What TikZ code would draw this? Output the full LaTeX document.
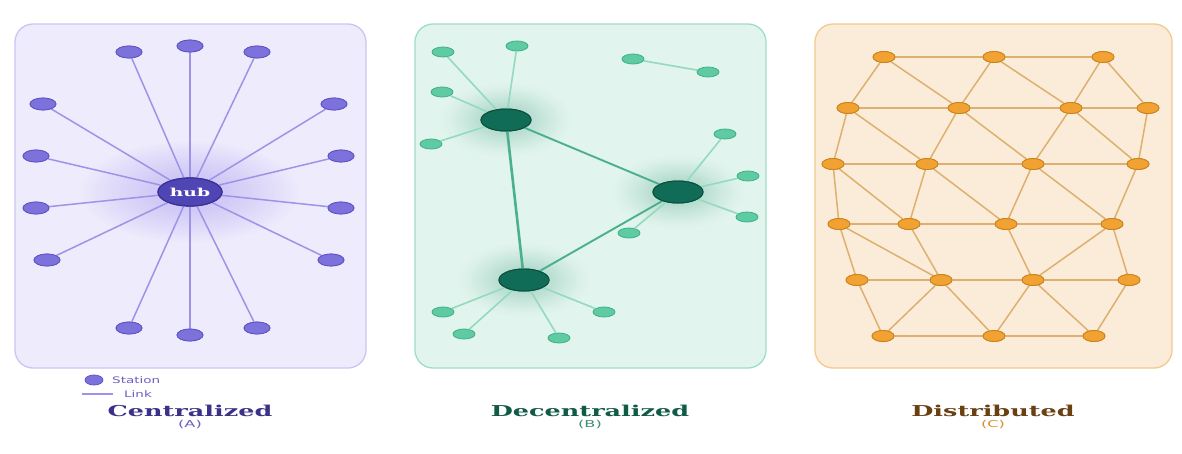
\documentclass[tikz,border=0pt]{standalone}
\usepackage{fontspec}
\setmainfont{DejaVu Serif}
\setsansfont{DejaVu Sans}
\usetikzlibrary{shapes.geometric}
\definecolor{Abg}{HTML}{EEEBFC}
\definecolor{Aborder}{HTML}{CBC5F3}
\definecolor{Anode}{HTML}{7D72DC}
\definecolor{Anodeb}{HTML}{5E53C4}
\definecolor{Alink}{HTML}{9D94E8}
\definecolor{Ahub}{HTML}{4F45B5}
\definecolor{Ahubb}{HTML}{3A3096}
\definecolor{Aglow}{HTML}{C4BAF3}
\definecolor{Atitle}{HTML}{3B3189}
\definecolor{Asub}{HTML}{6A60C4}
\definecolor{Bbg}{HTML}{E1F4ED}
\definecolor{Bborder}{HTML}{9FDEC6}
\definecolor{Bleaf}{HTML}{5FCBA3}
\definecolor{Bleafb}{HTML}{3EAF86}
\definecolor{Bleafedge}{HTML}{93DABF}
\definecolor{Bhubedge}{HTML}{4BB18C}
\definecolor{Bhub}{HTML}{106C56}
\definecolor{Bhubb}{HTML}{0B4F3F}
\definecolor{Bglow}{HTML}{98CCBA}
\definecolor{Btitle}{HTML}{0F5B46}
\definecolor{Bsub}{HTML}{3F8F75}
\definecolor{Cbg}{HTML}{FBECD9}
\definecolor{Cborder}{HTML}{F3C98D}
\definecolor{Cnode}{HTML}{F1A232}
\definecolor{Cnodeb}{HTML}{C88219}
\definecolor{Cedge}{HTML}{DDB06F}
\definecolor{Ctitle}{HTML}{6A4012}
\definecolor{Csub}{HTML}{D8912F}
% glow: centre x, centre y, x radius, y radius, colour, background, exponent
\newcommand{\myglow}[7]{%
  \foreach \i in {0,...,29}{%
    \pgfmathsetmacro\rr{1-\i/30}%
    \pgfmathsetmacro\pp{100*(\i/29)^#7}%
    \fill[#5!\pp!#6] (#1,#2) ellipse [x radius=\rr*#3 pt, y radius=\rr*#4 pt];
  }}
\newcommand{\wx}[1]{\scalebox{1.7}[1]{#1}}
\tikzset{
  panel/.style={line width=1.3pt, rounded corners=18pt},
  stationA/.style={ellipse, draw=Anodeb, fill=Anode, line width=0.8pt, minimum width=26pt, minimum height=12pt, inner sep=0pt},
  hubA/.style={ellipse, draw=Ahubb, fill=Ahub, line width=1.2pt, minimum width=64pt, minimum height=28pt, inner sep=0pt, text=white, font=\bfseries\fontsize{11}{11}\selectfont},
  linkA/.style={draw=Alink, line width=1.5pt},
  leafB/.style={ellipse, draw=Bleafb, fill=Bleaf, line width=0.8pt, minimum width=22pt, minimum height=10pt, inner sep=0pt},
  hubB/.style={ellipse, draw=Bhubb, fill=Bhub, line width=1pt, minimum width=50pt, minimum height=22pt, inner sep=0pt},
  leafedge/.style={draw=Bleafedge, line width=1.6pt},
  hubedge/.style={draw=Bhubedge, line width=1.9pt},
  nodeC/.style={ellipse, draw=Cnodeb, fill=Cnode, line width=0.8pt, minimum width=22pt, minimum height=11pt, inner sep=0pt},
  edgeC/.style={draw=Cedge, line width=1.5pt},
  title/.style={font=\bfseries\fontsize{15}{15}\selectfont},
  sub/.style={font=\sffamily\fontsize{9.5}{9.5}\selectfont},
  legend/.style={font=\sffamily\fontsize{9}{9}\selectfont, text=Asub, anchor=west, inner sep=0pt}
}
\begin{document}
\begin{tikzpicture}[x=1pt,y=-1pt]
\useasboundingbox (0,0) rectangle (1182,453);
\fill[white] (0,0) rectangle (1182,453);
% panels
\draw[panel, draw=Aborder, fill=Abg] (15,24) rectangle (366,368);
\draw[panel, draw=Bborder, fill=Bbg] (415,24) rectangle (766,368);
\draw[panel, draw=Cborder, fill=Cbg] (815,24) rectangle (1172,368);
% glows
\myglow{190}{192}{112}{52}{Aglow}{Abg}{0.9}
\myglow{506}{120}{68}{38}{Bglow}{Bbg}{1.3}
\myglow{678}{192}{68}{38}{Bglow}{Bbg}{1.3}
\myglow{524}{280}{68}{38}{Bglow}{Bbg}{1.3}
% ---------- A ----------
\node[hubA] (hub) at (190,192) {\wx{hub}};
\foreach \n/\x/\y in {a1/129/52, a2/190/46, a3/257/52, a4/43/104, a5/334/104, a6/36/156, a7/341/156, a8/36/208, a9/341/208, a10/47/260, a11/331/260, a12/129/328, a13/190/335, a14/257/328}{
  \node[stationA] (\n) at (\x,\y) {};
}
\foreach \n in {a1,a2,a3,a4,a5,a6,a7,a8,a9,a10,a11,a12,a13,a14}{
  \path[linkA] (hub) -- (\n);
}
\node[hubA] at (hub) {\wx{hub}};
\foreach \n/\x/\y in {a1/129/52, a2/190/46, a3/257/52, a4/43/104, a5/334/104, a6/36/156, a7/341/156, a8/36/208, a9/341/208, a10/47/260, a11/331/260, a12/129/328, a13/190/335, a14/257/328}{
  \node[stationA] at (\x,\y) {};
}
% legend
\node[stationA, minimum width=18pt, minimum height=10pt] (lgs) at (94,380) {};
\node[legend] (lgst) at (112,380) {\scalebox{1.5}[1]{Station}};
\coordinate (la) at (82,394);
\coordinate (lb) at (113,394);
\path[linkA] (la) -- (lb);
\node[legend] (lglt) at (124,394) {\scalebox{1.5}[1]{Link}};
\node[title, text=Atitle] (tA) at (190,411) {\wx{Centralized}};
\node[sub, text=Asub] (sA) at (190,425) {\wx{(A)}};
% ---------- B ----------
\node[hubB] (h1) at (506,120) {};
\node[hubB] (h2) at (678,192) {};
\node[hubB] (h3) at (524,280) {};
\foreach \n/\x/\y in {b1/443/52, b2/517/46, b3/442/92, b4/431/144, b5/633/59, b6/708/72, b7/725/134, b8/748/176, b9/747/217, b10/629/233, b11/443/312, b12/464/334, b13/604/312, b14/559/338}{
  \node[leafB] (\n) at (\x,\y) {};
}
\foreach \h/\l in {h1/b1,h1/b2,h1/b3,h1/b4,h2/b7,h2/b8,h2/b9,h2/b10,h3/b11,h3/b12,h3/b13,h3/b14}{
  \path[leafedge] (\h) -- (\l);
}
\path[leafedge] (b5) -- (b6);
\path[hubedge] (h1) -- (h2);
\path[hubedge, line width=2.6pt] (h1) -- (h3);
\path[hubedge] (h3) -- (h2);
\node[hubB] at (h1) {};
\node[hubB] at (h2) {};
\node[hubB] at (h3) {};
\node[title, text=Btitle] (tB) at (590,411) {\wx{Decentralized}};
\node[sub, text=Bsub] (sB) at (590,425) {\wx{(B)}};
% ---------- C ----------
\foreach \n/\x/\y in {c11/884/57, c12/994/57, c13/1103/57,
  c21/848/108, c22/959/108, c23/1071/108, c24/1148/108,
  c31/833/164, c32/927/164, c33/1033/164, c34/1138/164,
  c41/839/224, c42/909/224, c43/1006/224, c44/1112/224,
  c51/857/280, c52/941/280, c53/1033/280, c54/1129/280,
  c61/883/336, c62/994/336, c63/1094/336}{
  \node[nodeC] (\n) at (\x,\y) {};
}
\foreach \a/\b in {c11/c12, c12/c13, c11/c21, c11/c22, c12/c22, c12/c23, c13/c23, c13/c24,
  c21/c22, c22/c23, c23/c24, c21/c31, c21/c32, c22/c32, c22/c33, c23/c33, c23/c34, c24/c34,
  c31/c32, c32/c33, c33/c34, c31/c41, c31/c42, c32/c42, c32/c43, c33/c43, c33/c44, c34/c44,
  c41/c42, c42/c43, c43/c44, c41/c51, c41/c52, c42/c52, c43/c53, c44/c53, c44/c54,
  c51/c52, c52/c53, c53/c54, c51/c61, c52/c61, c52/c62, c53/c62, c53/c63, c54/c63,
  c61/c62, c62/c63}{
  \path[edgeC] (\a) -- (\b);
}
\foreach \n/\x/\y in {c11/884/57, c12/994/57, c13/1103/57,
  c21/848/108, c22/959/108, c23/1071/108, c24/1148/108,
  c31/833/164, c32/927/164, c33/1033/164, c34/1138/164,
  c41/839/224, c42/909/224, c43/1006/224, c44/1112/224,
  c51/857/280, c52/941/280, c53/1033/280, c54/1129/280,
  c61/883/336, c62/994/336, c63/1094/336}{
  \node[nodeC] at (\x,\y) {};
}
\node[title, text=Ctitle] (tC) at (993,411) {\wx{Distributed}};
\node[sub, text=Csub] (sC) at (993,425) {\wx{(C)}};
\end{tikzpicture}
\end{document}
